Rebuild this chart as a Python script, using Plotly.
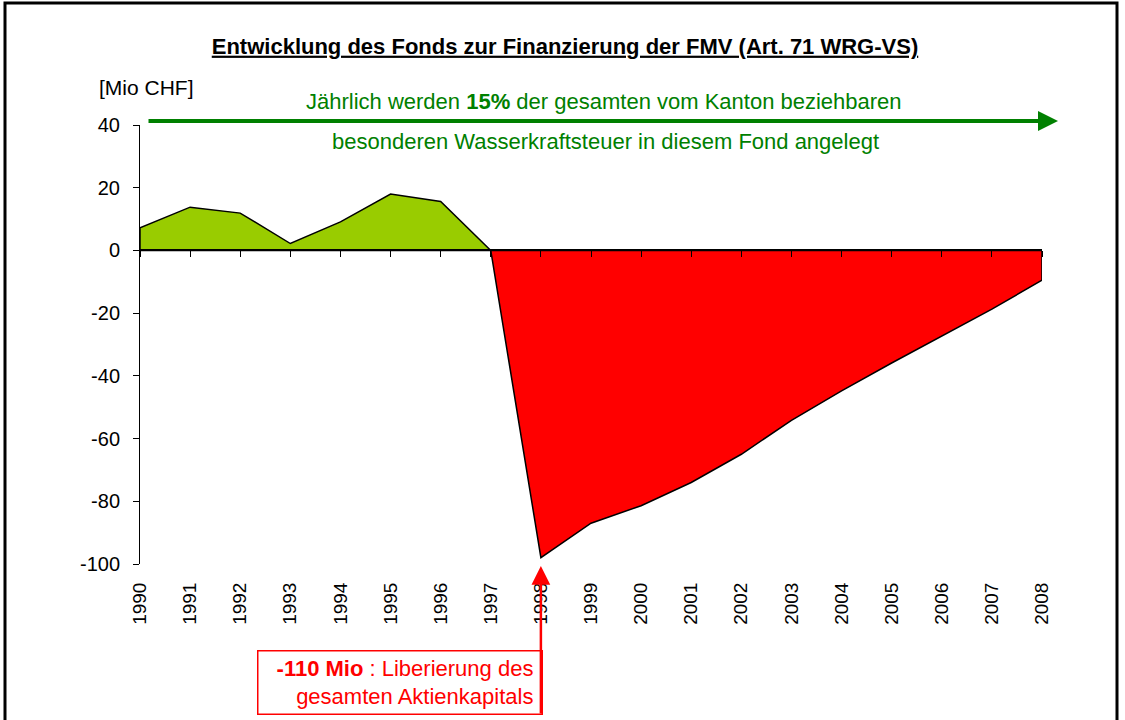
import plotly.graph_objects as go

years_pos = [1990, 1991, 1992, 1993, 1994, 1995, 1996, 1997]
values_pos = [7.2, 13.8, 11.9, 2.2, 9.1, 18.0, 15.6, 0.0]
years_neg = [1997, 1998, 1999, 2000, 2001, 2002, 2003, 2004, 2005, 2006, 2007, 2008]
values_neg = [0.0, -98.0, -87.0, -81.4, -74.0, -65.0, -54.2, -44.8, -35.9, -27.2, -18.7, -9.5]
tick_years = list(range(1990, 2009))
y_ticks = [40, 20, 0, -20, -40, -60, -80, -100]
y_tick_labels = ["40", "20", "0", "-20", "-40", "-60", "-80", "-100"]

title_text = "Entwicklung des Fonds zur Finanzierung der FMV (Art. 71 WRG-VS)"
unit_text = "[Mio CHF]"
note_line1 = "Jährlich werden <b>15%</b> der gesamten vom Kanton beziehbaren"
note_line2 = "besonderen Wasserkraftsteuer in diesem Fond angelegt"
box_text = "<b>-110 Mio</b> : Liberierung des\u00a0<br>gesamten Aktienkapitals\u00a0"

FONT = "Arial, Liberation Sans, sans-serif"
GREEN = "#008000"
W, H = 1125, 720
L, R, T, B = 140, 83, 125, 156
PW, PH = W - L - R, H - T - B
YMIN, YMAX = -100, 40


def px_to_paper_x(px):
    return (px - L) / PW


def px_to_paper_y(py):
    return (H - B - py) / PH


def poly(xs, ys):
    return xs + [xs[-1], xs[0], xs[0]], ys + [0, 0, ys[0]]


fig = go.Figure()
gx, gy = poly(years_pos, values_pos)
fig.add_trace(go.Scatter(x=gx, y=gy, fill="toself", fillcolor="#99CC00",
                         line=dict(color="black", width=1.5), mode="lines",
                         xaxis="x2", yaxis="y", hoverinfo="skip", showlegend=False))
rx, ry = poly(years_neg, values_neg)
fig.add_trace(go.Scatter(x=rx, y=ry, fill="toself", fillcolor="#FF0000",
                         line=dict(color="black", width=1.5), mode="lines",
                         hoverinfo="skip", showlegend=False))

fig.update_layout(
    width=W, height=H,
    margin=dict(l=L, r=R, t=T, b=B),
    paper_bgcolor="white", plot_bgcolor="white",
    font=dict(family=FONT, size=20, color="black"),
    title=dict(text="<b><u>" + title_text + "</u></b>", x=565 / W, xanchor="center",
               y=1 - 46 / H, yanchor="middle", font=dict(size=22, color="black")),
    xaxis=dict(range=[1990, 2008], tickmode="array", tickvals=tick_years,
               ticktext=[str(y) for y in tick_years], tickangle=-90,
               showline=False, showgrid=False, zeroline=False,
               ticks="outside", ticklen=10, tickcolor="rgba(0,0,0,0)",
               tickfont=dict(size=19)),
    xaxis2=dict(range=[1990, 2008], overlaying="x", anchor="free",
                position=(0 - YMIN) / (YMAX - YMIN), side="bottom",
                tickmode="array", tickvals=tick_years, showticklabels=False,
                showline=True, linecolor="black", linewidth=2,
                ticks="outside", ticklen=6, tickcolor="black", tickwidth=1,
                showgrid=False, zeroline=False, matches="x"),
    yaxis=dict(range=[YMIN, YMAX], tickmode="array", tickvals=y_ticks,
               ticktext=y_tick_labels,
               showline=True, linecolor="black", linewidth=1,
               ticks="outside", ticklen=6, tickcolor="black",
               ticklabelstandoff=9,
               showgrid=False, zeroline=False, tickfont=dict(size=20)),
)

ann = []
ann.append(dict(xref="paper", yref="paper", x=px_to_paper_x(97), y=px_to_paper_y(87),
                xanchor="left", yanchor="middle", text=unit_text, showarrow=False,
                font=dict(size=21, color="black")))
ann.append(dict(xref="paper", yref="paper", x=px_to_paper_x(604), y=px_to_paper_y(102),
                xanchor="center", yanchor="middle", text=note_line1, showarrow=False,
                font=dict(size=22, color=GREEN)))
ann.append(dict(xref="paper", yref="paper", x=px_to_paper_x(605), y=px_to_paper_y(142),
                xanchor="center", yanchor="middle", text=note_line2, showarrow=False,
                font=dict(size=22, color=GREEN)))
# green arrow
ann.append(dict(xref="paper", yref="paper", axref="pixel", ayref="pixel",
                x=px_to_paper_x(1058), y=px_to_paper_y(121), ax=-(1058 - 147), ay=0,
                text="", showarrow=True, arrowhead=2, arrowsize=1.0,
                arrowwidth=4, arrowcolor=GREEN))
# red box
ann.append(dict(xref="paper", yref="paper", x=px_to_paper_x(543), y=px_to_paper_y(650),
                xanchor="right", yanchor="top", text=box_text, showarrow=False,
                align="right", width=279, height=58, borderpad=2,
                bordercolor="#FF0000", borderwidth=1.5, bgcolor="white",
                font=dict(size=22, color="#FF0000")))
# red arrow
ann.append(dict(xref="x", yref="paper", axref="pixel", ayref="pixel",
                x=1998, y=px_to_paper_y(566), ax=0, ay=(715 - 566),
                text="", showarrow=True, arrowhead=2, arrowsize=1.5,
                arrowwidth=2.5, arrowcolor="#FF0000"))
fig.update_layout(annotations=ann)

# outer frame
fig.add_shape(type="rect", xref="paper", yref="paper",
              x0=px_to_paper_x(5), x1=px_to_paper_x(1117),
              y0=px_to_paper_y(740), y1=px_to_paper_y(3),
              line=dict(color="black", width=3), fillcolor="rgba(0,0,0,0)", layer="above")

fig.write_html("out.html", config={"displayModeBar": False},
               post_script="document.body.style.margin='0px';document.body.style.overflow='hidden';")
